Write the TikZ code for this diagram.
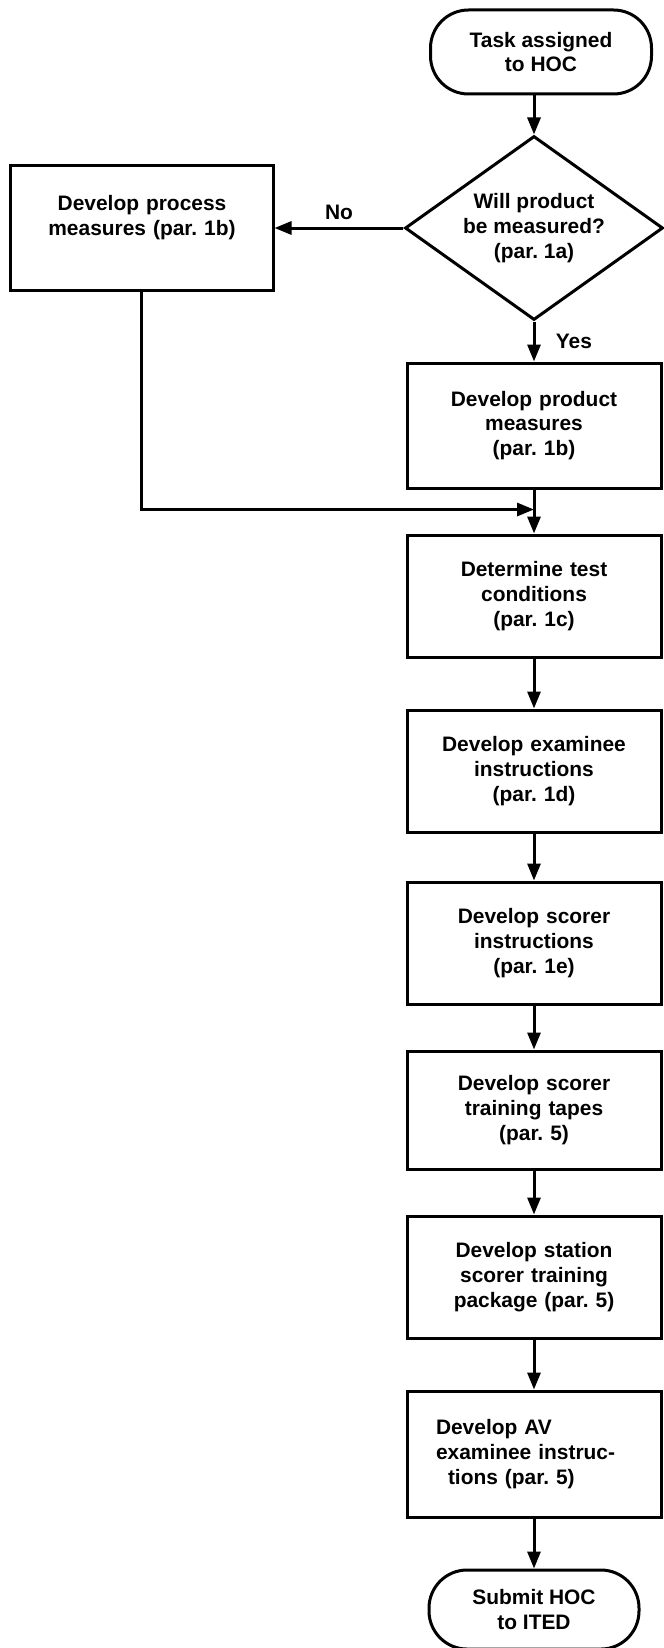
\documentclass[tikz,border=0pt]{standalone}
\usepackage{fontspec}
\setmainfont{Liberation Sans}
\usetikzlibrary{positioning,shapes.geometric,arrows.meta}
\frenchspacing

\begin{document}
\begin{tikzpicture}[x=1bp,y=1bp,
  font=\fontsize{21}{25}\selectfont\bfseries,node distance=44bp,
  box/.style={draw,line width=3bp,minimum width=254bp,minimum height=122bp,
              text width=232bp,align=center,inner sep=0pt},
  term/.style={draw,line width=3bp,rounded corners=38bp,minimum height=80bp,
               align=center,inner sep=0pt},
  ques/.style={draw,diamond,aspect=1.4,line width=3bp,minimum width=258bp,
               minimum height=184bp,align=center,inner sep=0pt},
  arr/.style={-{Triangle[length=17bp,width=13bp]},line width=3bp}]
\useasboundingbox (0,0) rectangle (664,-1648);
% colonna principale
\node[ques] (ask) at (534,-228) {Will product\\be measured?\\(par. 1a)};
\node[term,above=39bp of ask,xshift=7bp,minimum width=221bp,minimum height=84bp] (start) {Task assigned\\to HOC};
\node[box,below=40bp of ask,minimum height=125bp] (prod) {Develop product\\measures\\(par. 1b)};
\node[box,below=44bp of prod] (cond) {Determine test\\conditions\\(par. 1c)};
\node[box,below=50bp of cond] (exam) {Develop examinee\\instructions\\(par. 1d)};
\node[box,below=47bp of exam] (scor) {Develop scorer\\instructions\\(par. 1e)};
\node[box,below=44bp of scor,minimum height=118bp] (tape) {Develop scorer\\training tapes\\(par. 5)};
\node[box,below=44bp of tape] (stat) {Develop station\\scorer training\\package (par. 5)};
\node[box,below=50bp of stat,minimum height=126bp,align=left,text width=196bp] (avin) {Develop AV\\examinee instruc-\\\hspace*{12bp}tions (par. 5)};
\node[term,below=50bp of avin,minimum width=210bp,minimum height=79bp] (fin) {Submit HOC\\to ITED};
% ramo "No"
\node[box,left=129bp of ask,minimum width=262bp,minimum height=125bp] (proc) {Develop process\\measures (par. 1b)\\\mbox{}};
\coordinate[below=20bp of prod] (join);
% archi
\draw[arr] (start.south -| ask.north) -- (ask.north);
\draw[arr] (ask) -- node[midway,above=3bp] {No} (proc);
\draw[arr] (ask) -- node[midway,right=17bp] {Yes} (prod);
\draw[arr] (proc.south) |- (join);
\draw[arr] (prod) -- (cond); \draw[arr] (cond) -- (exam); \draw[arr] (exam) -- (scor);
\draw[arr] (scor) -- (tape); \draw[arr] (tape) -- (stat); \draw[arr] (stat) -- (avin);
\draw[arr] (avin) -- (fin);
\end{tikzpicture}
\end{document}
